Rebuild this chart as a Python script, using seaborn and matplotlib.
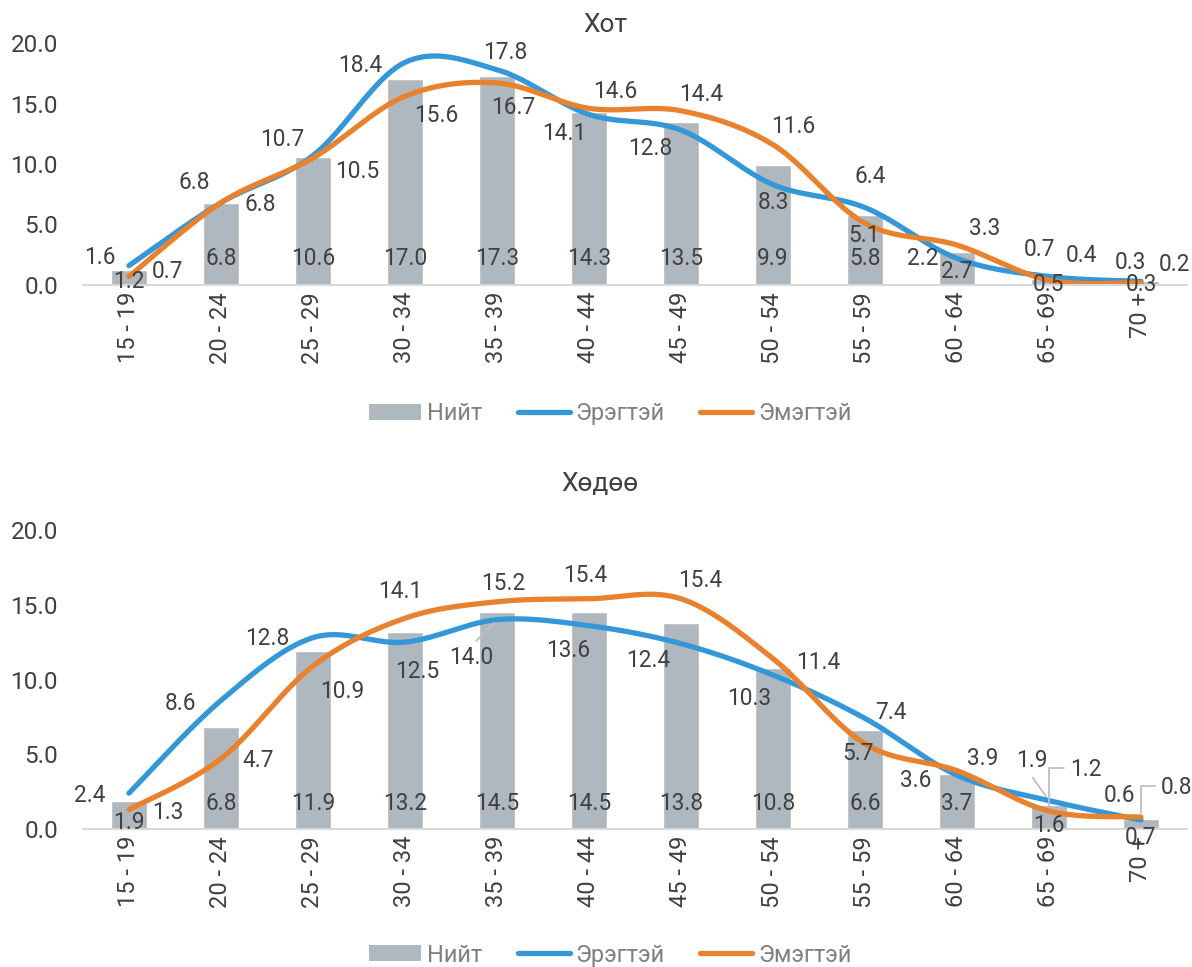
import numpy as np
import pandas as pd
import matplotlib
matplotlib.use("Agg")
import matplotlib.pyplot as plt
import seaborn as sns
from matplotlib.patches import Patch
from matplotlib.lines import Line2D
from matplotlib.ticker import FixedLocator

# ---------------- data ----------------
age_groups = ["15 - 19", "20 - 24", "25 - 29", "30 - 34", "35 - 39", "40 - 44",
              "45 - 49", "50 - 54", "55 - 59", "60 - 64", "65 - 69", "70 +"]
city_total = [1.2, 6.8, 10.6, 17.0, 17.3, 14.3, 13.5, 9.9, 5.8, 2.7, 0.5, 0.3]
city_male = [1.6, 6.8, 10.7, 18.4, 17.8, 14.1, 12.8, 8.3, 6.4, 2.2, 0.7, 0.3]
city_female = [0.7, 6.8, 10.5, 15.6, 16.7, 14.6, 14.4, 11.6, 5.1, 3.3, 0.4, 0.2]
rural_total = [1.9, 6.8, 11.9, 13.2, 14.5, 14.5, 13.8, 10.8, 6.6, 3.7, 1.6, 0.7]
rural_male = [2.4, 8.6, 12.8, 12.5, 14.0, 13.6, 12.4, 10.3, 7.4, 3.6, 1.9, 0.6]
rural_female = [1.3, 4.7, 10.9, 14.1, 15.2, 15.4, 15.4, 11.4, 5.7, 3.9, 1.2, 0.8]
panel_titles = ["Хот", "Хөдөө"]
legend_labels = ["Нийт", "Эрэгтэй", "Эмэгтэй"]
y_ticks = [0, 5, 10, 15, 20]

# ---------------- label layout (pixel offsets, +y = up) ----------------
city_bar_off = [3, 26, 26, 26, 26, 26, 26, 26, 26, 13, 0, 0]
rural_bar_off = [7, 26, 26, 26, 26, 26, 26, 26, 26, 26, 4, -8]
city_male_off = [(-29, 8), (-27, 20), (-31, 16), (-45, -3), (8, 17), (-25, -19),
                 (-31, -18), (0, -18), (5, 31), (-34, 0), (-9, 27), (-11, 19)]
city_female_off = [(39, 5), (39, -2), (44, -14), (31, -19), (16, -25), (26, 17),
                   (20, 16), (20, 18), (-1, -12), (28, 17), (33, 25), (34, 18)]
rural_male_off = [(-39, -2), (-40, -3), (-46, -1), (12, -29), (-26, -38), (-21, -25),
                  (-33, -17), (-24, -23), (26, 6), (-41, -5), (-17, 40), (-21, 25)]
rural_female_off = [(39, -3), (37, -2), (29, -25), (-5, 27), (6, 18), (-4, 23),
                    (19, 18), (45, -4), (-7, -10), (26, 12), (37, 42), (36, 30)]
# leader lines: (series, index) -> kind
rural_leaders = {("m", 4): "diag_top", ("m", 10): "diag_bottom",
                 ("f", 10): "elbow", ("f", 11): "elbow"}

BAR = "#B0B8BF"
BLUE = "#3498D8"
ORANGE = "#E8822F"
TXT = "#404040"
AX = "#D9D9D9"
LEAD = "#BFBFBF"

sns.set_theme(style="white")
plt.rcParams["font.family"] = ["Roboto", "DejaVu Sans"]


def smooth(xs, ys, n=40):
    P = np.column_stack([xs, ys]).astype(float)
    E = np.vstack([P[0], P, P[-1]])
    t = np.linspace(0, 1, n)[:, None]
    parts = []
    for i in range(len(P) - 1):
        p0, p1, p2, p3 = E[i], E[i + 1], E[i + 2], E[i + 3]
        c1 = p1 + (p2 - p0) / 6.0
        c2 = p2 - (p3 - p1) / 6.0
        seg = ((1 - t) ** 3) * p1 + 3 * ((1 - t) ** 2) * t * c1 + 3 * (1 - t) * t ** 2 * c2 + t ** 3 * p2
        parts.append(seg if i == 0 else seg[1:])
    return np.vstack(parts)


fig = plt.figure(figsize=(11.92, 9.67), dpi=100)
ax_top = fig.add_axes([0.0696, 0.7053, 0.9262, 0.2502])
ax_bot = fig.add_axes([0.0696, 0.1427, 0.9262, 0.3092])

panels = [
    (ax_top, city_total, city_male, city_female, city_bar_off, city_male_off, city_female_off, False, {}),
    (ax_bot, rural_total, rural_male, rural_female, rural_bar_off, rural_male_off, rural_female_off, True, rural_leaders),
]
title_pos = [(605 / 1192, 1 - 25 / 967), (600 / 1192, 1 - 484 / 967)]

for k, (ax, tot, male, female, boff, moff, foff, ticks, leaders) in enumerate(panels):
    df = pd.DataFrame({"age": age_groups, "total": tot})
    sns.barplot(data=df, x="age", y="total", color=BAR, saturation=1, width=0.4, ax=ax)
    xs = np.arange(len(age_groups))
    for vals, col in ((male, BLUE), (female, ORANGE)):
        sm = smooth(xs, vals)
        sns.lineplot(x=sm[:, 0], y=sm[:, 1], sort=False, estimator=None, color=col,
                     linewidth=3.8, ax=ax, solid_capstyle="round")
    ax.set_xlim(-0.5, len(age_groups) - 0.5)
    ax.set_ylim(0, 20)
    ax.set_xlabel("")
    ax.set_ylabel("")
    ax.set_yticks(y_ticks)
    ax.set_yticklabels([f"{v:.1f}" for v in y_ticks])
    ax.tick_params(axis="y", length=0, pad=18, labelsize=17.5, labelcolor=TXT)
    ax.tick_params(axis="x", length=0, pad=5, labelsize=17, labelcolor=TXT, labelrotation=90)
    for s in ("top", "right", "left"):
        ax.spines[s].set_visible(False)
    ax.spines["bottom"].set_color(AX)
    ax.spines["bottom"].set_linewidth(1.5)
    if ticks:
        ax.xaxis.set_minor_locator(FixedLocator(np.arange(-0.5, len(age_groups), 1.0)))
        ax.tick_params(axis="x", which="minor", length=8, width=1.3, color=AX)
    fig.text(title_pos[k][0], title_pos[k][1], panel_titles[k], fontsize=19, color=TXT,
             ha="center", va="center")

    # bar labels (inside base)
    for i, v in enumerate(tot):
        ax.annotate(f"{v:.1f}", (i, 0), xytext=(0, boff[i]), textcoords="offset pixels",
                    ha="center", va="center", fontsize=16.3, color=TXT,
                    annotation_clip=False)
    # line labels
    for key, vals, offs in (("m", male, moff), ("f", female, foff)):
        for i, v in enumerate(vals):
            kind = leaders.get((key, i))
            arrow = None
            rel = (0.5, 0.5)
            if kind == "elbow":
                arrow = dict(arrowstyle="-", color=LEAD, lw=1.3, shrinkA=2, shrinkB=3,
                             connectionstyle="angle,angleA=180,angleB=90,rad=0")
                rel = (0.0, 0.55)
            elif kind == "diag_top":
                arrow = dict(arrowstyle="-", color=LEAD, lw=1.3, shrinkA=2, shrinkB=3)
                rel = (0.5, 1.0)
            elif kind == "diag_bottom":
                arrow = dict(arrowstyle="-", color=LEAD, lw=1.3, shrinkA=2, shrinkB=4)
                rel = (0.4, 0.0)
            if arrow is not None:
                arrow["relpos"] = rel
            ax.annotate(f"{v:.1f}", (i, v), xytext=offs[i], textcoords="offset pixels",
                        ha="center", va="center", fontsize=16.3, color=TXT,
                        annotation_clip=False, arrowprops=arrow)

handles = [Patch(facecolor=BAR, edgecolor="none"),
           Line2D([0], [0], color=BLUE, lw=3.8, solid_capstyle="round"),
           Line2D([0], [0], color=ORANGE, lw=3.8, solid_capstyle="round")]
for ypos in (0.572, 0.0124):
    leg = fig.legend(handles, legend_labels, loc="center", bbox_to_anchor=(0.512, ypos),
                     ncol=3, frameon=False, fontsize=17, handlelength=2.2,
                     handleheight=0.65, handletextpad=0.25, columnspacing=1.5)
    for t in leg.get_texts():
        t.set_color("#808080")

fig.savefig("out.png", dpi=100)
